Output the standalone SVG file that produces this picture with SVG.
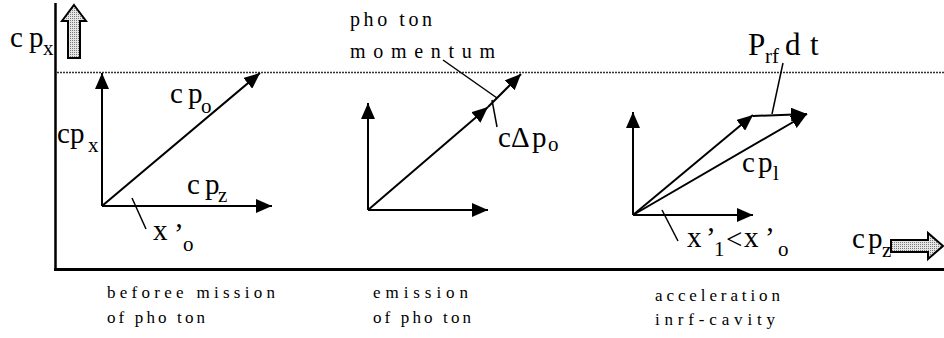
<svg xmlns="http://www.w3.org/2000/svg" width="944" height="338" viewBox="0 0 944 338" font-family="'Liberation Serif','Times New Roman',serif">
<defs>
<marker id="ah" markerUnits="userSpaceOnUse" markerWidth="16" markerHeight="14" refX="16" refY="7" orient="auto">
<path d="M0,0 L16,7 L0,14 z" fill="#000"/>
</marker>
<pattern id="dots" width="2" height="2" patternUnits="userSpaceOnUse">
<rect width="2" height="2" fill="#e6e6e6"/><rect width="1" height="1" fill="#7a7a7a"/>
</pattern>
</defs>
<style>
text{font-family:"Liberation Serif","Times New Roman",serif;fill:#000}
.m{font-size:29px}
.s{font-size:21px}
.lab{font-size:17px}
.ar{stroke:#000;stroke-width:2;fill:none;marker-end:url(#ah)}
.ld{stroke:#000;stroke-width:1.5;fill:none}
.hol{fill:url(#dots);stroke:#000;stroke-width:2;stroke-linejoin:miter}
</style>
<rect width="944" height="338" fill="#fff"/>

<g id="axes">
<line x1="55.5" y1="3" x2="55.5" y2="271" stroke="#000" stroke-width="2.5"/>
<line x1="54" y1="269.5" x2="944" y2="269.5" stroke="#000" stroke-width="3"/>
<line x1="57" y1="72.5" x2="944" y2="72.5" stroke="#333" stroke-width="1.5" stroke-dasharray="2 1"/>
<polygon class="hol" points="74,5 86,21 80,21 80,58 68,58 68,21 62,21"/>
<polygon class="hol" points="943,246 928,233 928,240 891,240 891,252 928,252 928,259"/>
<text class="m" y="47"><tspan x="10">c</tspan><tspan x="29">p</tspan><tspan class="s" x="43" y="55">x</tspan></text>
<text class="m" y="248"><tspan x="852">c</tspan><tspan x="868">p</tspan><tspan class="s" x="882" y="257">z</tspan></text>
</g>

<g id="connectors">
<line class="ar" x1="102" y1="206" x2="102" y2="73"/>
<line class="ar" x1="102" y1="206" x2="272" y2="206"/>
<line class="ar" x1="102" y1="206" x2="260" y2="73"/>
<line class="ld" x1="132" y1="198" x2="146" y2="229"/>

<line class="ar" x1="368" y1="210" x2="368" y2="103"/>
<line class="ar" x1="368" y1="210" x2="488" y2="210"/>
<line class="ar" x1="368" y1="210" x2="488" y2="107"/>
<line class="ar" x1="488" y1="107" x2="521" y2="74"/>
<line class="ld" x1="443" y1="60" x2="497" y2="98"/>
<line class="ld" x1="492" y1="100" x2="497" y2="127"/>

<line class="ar" x1="633" y1="215" x2="633" y2="112"/>
<line class="ar" x1="633" y1="215" x2="753" y2="215"/>
<line class="ar" x1="633" y1="215" x2="753" y2="115"/>
<line class="ar" x1="753" y1="116" x2="807" y2="114"/>
<line class="ar" x1="633" y1="215" x2="807" y2="114"/>
<line class="ld" x1="783" y1="63" x2="772" y2="114"/>
<line class="ld" x1="662" y1="210" x2="678" y2="241"/>
</g>

<g id="panel1">
<text class="m" y="143"><tspan x="57">c</tspan><tspan x="70">p</tspan><tspan class="s" x="88" y="152">x</tspan></text>
<text class="m" y="103"><tspan x="170">c</tspan><tspan x="188">p</tspan><tspan class="s" x="201" y="113">o</tspan></text>
<text class="m" y="194"><tspan x="187">c</tspan><tspan x="205">p</tspan><tspan class="s" x="218" y="202">z</tspan></text>
<text class="m" y="240"><tspan x="153">x</tspan><tspan x="174" y="243">’</tspan><tspan class="s" x="183" y="251">o</tspan></text>
<text class="lab" x="107" y="298" textLength="168" lengthAdjust="spacing">beforee mission</text>
<text class="lab" x="107" y="323" textLength="98" lengthAdjust="spacing">of pho ton</text>
</g>

<g id="panel2">
<text style="font-size:20px" x="350" y="26" textLength="82" lengthAdjust="spacing">pho ton</text>
<text style="font-size:20px" x="350" y="58" textLength="145" lengthAdjust="spacing">momentum</text>
<text class="m" y="147"><tspan x="498">c</tspan><tspan x="511">Δ</tspan><tspan x="532">p</tspan><tspan class="s" x="548" y="151">o</tspan></text>
<text class="lab" x="373" y="298" textLength="95" lengthAdjust="spacing">emission</text>
<text class="lab" x="373" y="323" textLength="98" lengthAdjust="spacing">of pho ton</text>
</g>

<g id="panel3">
<text style="font-size:31px" y="55"><tspan x="748">P</tspan><tspan class="s" x="765" y="63">rf</tspan><tspan x="785" y="55">d</tspan><tspan x="810">t</tspan></text>
<text class="m" y="172"><tspan x="742">c</tspan><tspan x="758">p</tspan><tspan class="s" x="773" y="180">l</tspan></text>
<text class="m" y="247"><tspan x="687">x</tspan><tspan x="706">’</tspan><tspan class="s" x="714" y="256">1</tspan><tspan x="726" y="249">&lt;</tspan><tspan x="744" y="247">x</tspan><tspan x="765">’</tspan><tspan class="s" x="778" y="256">o</tspan></text>
<text class="lab" x="655" y="301" textLength="125" lengthAdjust="spacing">acceleration</text>
<text class="lab" x="655" y="325" textLength="120" lengthAdjust="spacing">inrf-cavity</text>
</g>
</svg>
